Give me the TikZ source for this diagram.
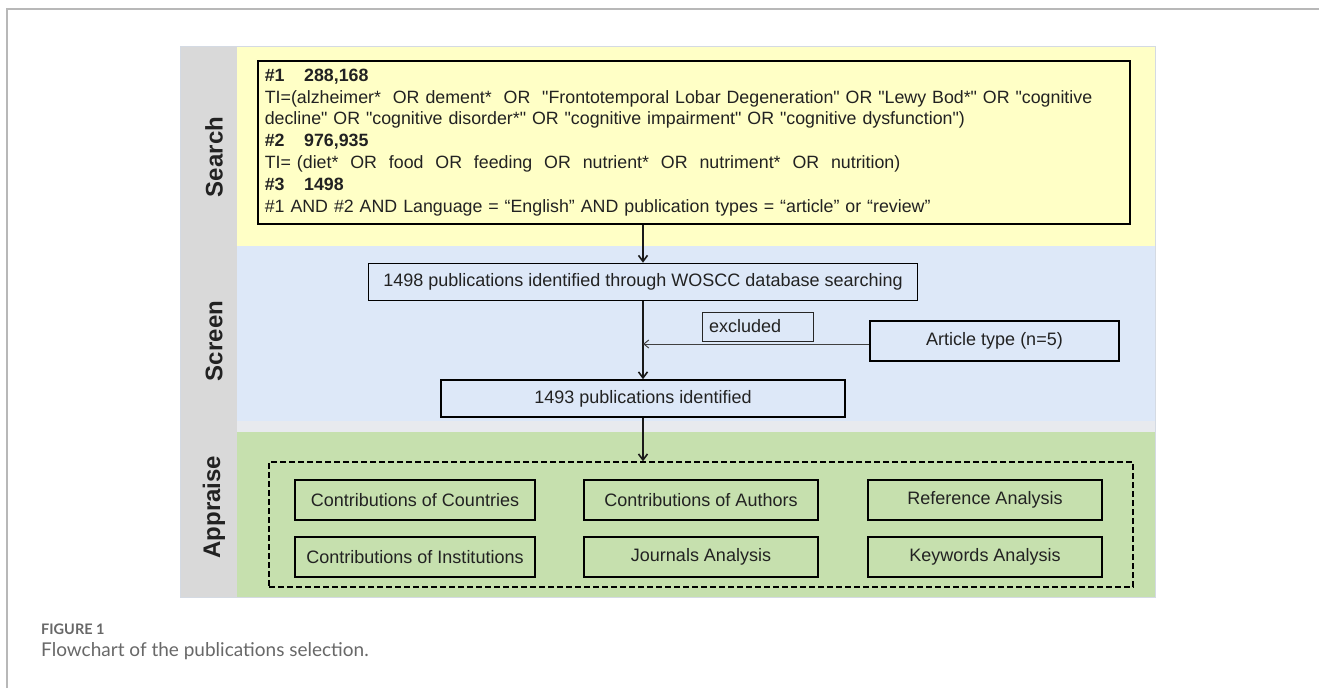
\documentclass[tikz,border=0pt]{standalone}
\usepackage{fontspec}
\setmainfont{Liberation Sans}
\newfontfamily\capfont{Lato}
\usetikzlibrary{arrows.meta}
\definecolor{colgray}{HTML}{D9D9D9}
\definecolor{bandyel}{HTML}{FFFFC6}
\definecolor{bandblu}{HTML}{DDE8F8}
\definecolor{bandgap}{HTML}{E8EAEE}
\definecolor{bandgrn}{HTML}{C6E0AE}
\definecolor{paneledge}{HTML}{D4DAE3}
\definecolor{txt}{HTML}{222222}
\definecolor{capgray}{HTML}{686868}
\definecolor{framegray}{HTML}{B8B8B8}
\newcommand{\dq}{\textquotedbl{}}
\begin{document}
\begin{tikzpicture}[x=1pt,y=-1pt,
  every node/.style={text=txt,font=\fontsize{18}{21.8}\selectfont},
  box/.style={draw=black,line width=1.6pt,inner sep=0pt,align=center},
  thinbox/.style={draw=black!85,line width=1pt,inner sep=0pt},
  lane/.style={rotate=90,font=\bfseries\fontsize{24}{28}\selectfont},
  arr/.style={draw=black!90,line width=1.6pt,-{Straight Barb[length=6pt,width=9pt]}},
  thinarr/.style={draw=black!75,line width=1pt,-{Straight Barb[length=5pt,width=8pt]}}]
\useasboundingbox (0,0) rectangle (1319,688);
\fill[white] (0,0) rectangle (1319,688);
% outer frame (top and left)
\draw[framegray,line width=1.5pt] (7,688) -- (7,9) -- (1319,9);
% panel
\fill[colgray] (180,46) rectangle (237,597);
\fill[bandyel] (237,46) rectangle (1155,246);
\fill[bandblu] (237,246) rectangle (1155,421);
\fill[bandgap] (237,421) rectangle (1155,432);
\fill[bandgrn] (237,432) rectangle (1155,597);
\draw[paneledge,line width=1pt] (180,46) rectangle (1155,597);
% lane labels
\node[lane] (lsearch) at (214,157) {Search};
\node[lane] (lscreen) at (214,341) {Screen};
\node[lane] (lappr) at (214,507) {Appraise};
% search box
\node[box,anchor=north west,minimum width=872pt,minimum height=163pt,
  text width=858pt,align=left,inner xsep=7pt,font=\fontsize{17.8}{21.8}\selectfont] (search) at (257,60)
{\textbf{\#1\hspace{1.1em}288,168}\\
TI=(alzheimer*\ \ OR dement*\ \ OR\ \ \dq Frontotemporal Lobar Degeneration\dq\ OR \dq Lewy Bod*\dq\ OR \dq cognitive\\
decline\dq\ OR \dq cognitive disorder*\dq\ OR \dq cognitive impairment\dq\ OR \dq cognitive dysfunction\dq)\\
\textbf{\#2\hspace{1.1em}976,935}\\
TI= (diet*\ \ OR\ \ food\ \ OR\ \ feeding\ \ OR\ \ nutrient*\ \ OR\ \ nutriment*\ \ OR\ \ nutrition)\\
\textbf{\#3\hspace{1.1em}1498}\\
\#1 AND \#2 AND Language = “English” AND publication types = “article” or “review”};
% screen boxes
\node[box,minimum width=549pt,minimum height=37pt] (b1) at (643,282)
  {1498 publications identified through WOSCC database searching};
\node[box,minimum width=404pt,minimum height=37pt] (b2) at (643,398.5)
  {1493 publications identified};
\node[thinbox,text width=97pt,inner xsep=7pt,minimum height=29pt,align=left] (exc) at (757.5,326.5) {excluded};
\node[box,minimum width=249pt,minimum height=40pt] (art) at (994.5,341) {Article type (n=5)};
% appraise
\node[draw=black,dash pattern=on 6pt off 3pt,line width=1.4pt,minimum width=864pt,minimum height=125pt] (appr) at (701,524.5) {};
\node[box,minimum width=240pt,minimum height=40pt] (c1) at (415,500) {Contributions of Countries};
\node[box,minimum width=234pt,minimum height=40pt] (c2) at (701,500) {Contributions of Authors};
\node[box,minimum width=234pt,minimum height=40pt] (c3) at (985,500) {Reference Analysis};
\node[box,minimum width=240pt,minimum height=40pt] (c4) at (415,557) {Contributions of Institutions};
\node[box,minimum width=234pt,minimum height=40pt] (c5) at (701,557) {Journals Analysis};
\node[box,minimum width=234pt,minimum height=40pt] (c6) at (985,557) {Keywords Analysis};
% connectors
\draw[arr] (b2.north |- search.south) -- (b2.north |- b1.north);
\draw[arr] (b2.north |- b1.south) -- (b2.north);
\draw[thinarr] ([yshift=-3pt]art.west) -- ([yshift=-3pt]art.west -| b2.north);
\draw[arr] (b2.south) -- (b2.south |- appr.north);
% caption
\node[anchor=west,inner sep=0pt,text=capgray,font=\capfont\bfseries\fontsize{14.5}{16}\selectfont] (fig) at (41,629) {FIGURE 1};
\node[anchor=west,inner sep=0pt,text=capgray,font=\capfont\fontsize{19}{22}\selectfont] (capt) at (41,651) {Flowchart of the publications selection.};
\end{tikzpicture}
\end{document}
